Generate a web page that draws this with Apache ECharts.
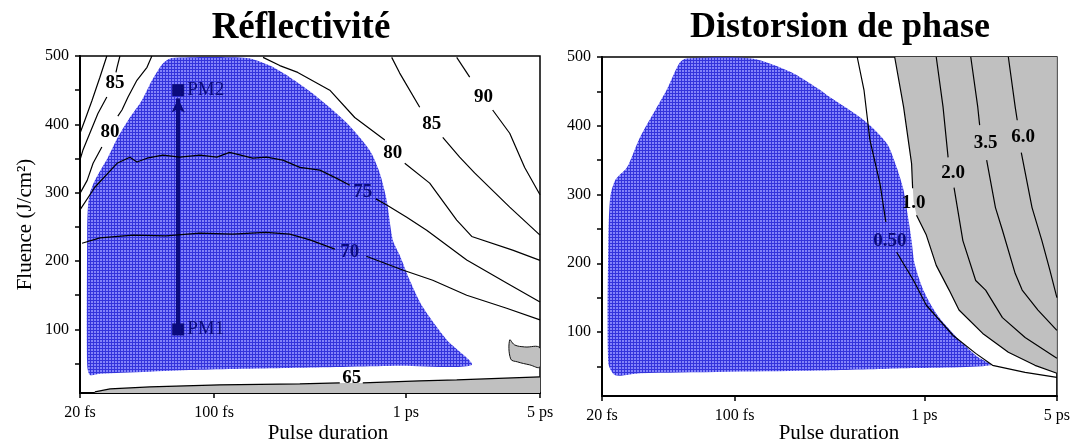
<!DOCTYPE html>
<html><head><meta charset="utf-8">
<script src="https://cdn.jsdelivr.net/npm/echarts@6/dist/echarts.min.js"></script>
<style>html,body{margin:0;padding:0;background:#fff}#c{width:1073px;height:443px}</style>
</head><body><div id="c"></div>
<script>
// ---------- DATA (x: pulse duration in fs, y: fluence in J/cm²) ----------
const yTicks = [50,100,150,200,250,300,350,400,450,500];
const yLabels = [100,200,300,400,500];

// Left panel: Réflectivité
const blueLeft = [[22.5,33.5],[21.8,48],[21.8,245],[22,279],[22.5,299],[23.9,318],[28,352],[31.5,381],[36.4,410],[42,435],[47.4,464],[54.1,489],[60.3,497],[148,497],[195,486],[248,469],[327,445],[492,402],[647,362],[730,329],[794,289],[854,231],[928,209],[1047,172],[1222,133],[1630,85],[2203,48],[928,47],[280,44],[84,41],[25.4,35]];
const c90L  = [[27.6,500],[25.4,469],[23.1,435],[21.2,406],[20,387]];
const c85La = [[32.3,500],[31.2,483.5],[30.8,476]];
const c85Lb = [[27.6,440],[24.8,416],[22.5,387],[20.7,362],[20,348]];
const c80La = [[47.4,500],[44.7,483.5],[39.6,464.5],[35.6,440],[33.1,421],[31.5,412]];
const c80Lb = [[26,367],[23.4,343],[21.8,318],[20,299]];
const c80Ra = [[180,498],[220,486],[273,476],[401,450],[541,410],[776,377]];
const c80Rb = [[986,343],[1330,314],[1840,260],[2203,236],[3600,216],[5000,201]];
const c85Ra = [[843,498],[928,475],[1180,425]];
const c85Rb = [[1556,381],[1906,352],[2280,329],[3476,279],[5000,238]];
const c90Ra = [[1840,498],[2150,469]];
const c90Rb = [[2832,421],[3476,387],[4160,337],[5000,297]];
const c75a = [[20,275],[23.9,308],[31.2,343],[36.4,352],[39.6,345],[44.7,350.5],[54.1,355],[66.3,352],[84.3,355],[103.4,352],[120.5,359],[159,350.5],[188,352],[228,347.6],[280,337],[356,333],[436,321],[510,311]];
const c75b = [[697,291],[794,282],[1010,264],[1283,245],[2075,201.5],[3350,168],[5000,140]];
const c70a = [[20.5,226],[25.4,234],[37.8,238],[56.1,237],[84.3,241],[125,239.5],[186,242],[248,239.5],[316,231],[426,217.5]];
const c70b = [[622,207],[962,187],[1380,172],[2075,150],[3350,131],[5000,114]];
const c65a = [[23.9,8.6],[28.7,13],[46.3,16],[107,19],[280,20.4],[452,21.8]];
const c65b = [[596,21.8],[1180,24.8],[1840,26.2],[5000,30.6]];
const blob = [[3476,84.6],[3688,77.3],[4160,74.4],[5000,72.9],[5000,45.2],[4413,48.2],[3820,52.5],[3516,56.9]];
const labelsLeft = [[30.4,460,'85'],[28.7,388,'80'],[854,358,'80'],[1362,400,'85'],[2541,440,'90'],[596,301,'75'],[510,213,'70'],[522,29,'65']];
const pm = [[65,100,'PM1'],[65,450,'PM2']];
const pmArrow = [[65,100],[65,438]];

// Right panel: Distorsion de phase
const blueRight = [[23.5,37],[21.6,54.5],[21.6,233],[22.1,296],[23.5,321],[27.1,339.5],[31.7,383],[43.8,452],[51.1,491],[55.6,498],[123,498],[199,478],[274,454.5],[320,441],[481,408],[634,374.5],[715,339.5],[778,306],[826,262.5],[857,233],[888,200],[988,161],[1156,127],[1419,98],[1866,66],[2234,51.6],[715,47],[274,44],[31.7,40]];
const c050a = [[443,500],[481,452],[517,379],[584,316],[627,260]];
const c050b = [[715,216],[878,175],[1025,139],[1419,95],[1866,69],[2290,51.6],[3400,41.4],[5000,34]];
const c10a = [[698,500],[778,427],[857,345],[868,309]];
const c10b = [[910,270],[1025,241],[1156,197],[1352,161],[1524,132],[2032,98],[2774,70.5],[3833,51.6],[5000,40]];
const gray10 = [[698,500],[778,427],[857,345],[878,290],[910,270],[1025,241],[1156,197],[1352,161],[1524,132],[2032,98],[2774,70.5],[3833,51.6],[5000,40]];
const c20a = [[1156,500],[1256,427],[1335,354]];
const c20b = [[1435,310],[1597,233],[1866,175],[2105,161],[2582,121],[3400,92],[5000,62]];
const c35a = [[1758,500],[1914,427],[1958,401]];
const c35b = [[2132,350],[2372,281],[2582,248],[3015,185],[3281,161],[3975,132],[5000,102.5]];
const c60a = [[2774,500],[3015,427],[3090,408]];
const c60b = [[3246,361],[3698,281],[4168,233],[4592,190],[5000,150]];
const labelsRight = [[658,233,'0.50'],[878,287,'1.0'],[1419,331,'2.0'],[2105,374.5,'3.5'],[3320,383,'6.0']];

// ---------- STYLE ----------
const SERIF = '"Liberation Serif","Times New Roman",serif';
const NAVY = '#0b0b7d';
const GRAY = '#c0c0c0';
const navyLabels = ['75','70','0.50'];

function makePattern(){
  const c = document.createElement('canvas'); c.width = 3; c.height = 3;
  const g = c.getContext('2d');
  g.fillStyle = '#8484fa'; g.fillRect(0,0,3,3);
  g.fillStyle = '#3434dc'; g.fillRect(0,0,3,1); g.fillRect(0,0,1,3);
  return c;
}
const pattern = {image: makePattern(), repeat: 'repeat'};

function poly(idx, pts, style, smooth){
  return {type:'custom', xAxisIndex:idx, yAxisIndex:idx, silent:true, clip:true,
    data:[pts[0]],
    renderItem:function(params, api){
      return {type:'polygon', shape:{points: pts.map(p=>api.coord(p)), smooth: smooth||0}, style: style};
    }};
}
function contour(idx, pts){
  return {type:'line', xAxisIndex:idx, yAxisIndex:idx, data:pts, symbol:'none', silent:true,
    lineStyle:{color:'#000', width:1.2}, z:5};
}
function area(idx, pts, origin){
  return {type:'line', xAxisIndex:idx, yAxisIndex:idx, data:pts, symbol:'none', silent:true,
    lineStyle:{width:0}, areaStyle:{color:GRAY, opacity:1, origin:origin}, z:1};
}
function labels(idx, arr){
  return {type:'scatter', xAxisIndex:idx, yAxisIndex:idx, symbolSize:0, silent:true, z:10,
    itemStyle:{opacity:1},
    data: arr.map(a=>({value:[a[0],a[1]], name:a[2],
      label:{color: navyLabels.indexOf(a[2])>=0 ? NAVY : '#000'}})),
    label:{show:true, position:'inside', formatter:'{b}', fontFamily:SERIF, fontWeight:'bold', fontSize:19,
      textBorderWidth:0, opacity:1}};
}
function fmtX(v){
  const r = Math.round(v);
  return r < 1000 ? r + ' fs' : (r/1000) + ' ps';
}
function xAxis(idx){
  return {gridIndex:idx, type:'log', logBase:10, min:20, max:5000,
    axisLine:{show:true, lineStyle:{color:'#000', width:2}},
    axisTick:{show:true, inside:false, length:5, lineStyle:{color:'#000', width:1.5}},
    axisLabel:{formatter:fmtX, fontFamily:SERIF, fontSize:16, color:'#000', margin:12, showMinLabel:true, showMaxLabel:true},
    splitLine:{show:false}, minorTick:{show:false}};
}
function yAxis(idx, withName){
  const a = {gridIndex:idx, type:'value', min:7, max:500,
    axisLine:{show:true, lineStyle:{color:'#000', width:2}},
    axisTick:{show:true, inside:false, length:5, customValues:yTicks, lineStyle:{color:'#000', width:1.5}},
    axisLabel:{customValues:yLabels, fontFamily:SERIF, fontSize:16, color:'#000', margin:11},
    splitLine:{show:false}};
  if (withName){
    a.name = 'Fluence (J/cm²)'; a.nameLocation = 'middle'; a.nameGap = 44;
    a.nameTextStyle = {fontFamily:SERIF, fontSize:21, color:'#000'};
  }
  return a;
}

const series = [
  // left
  area(0, c65a.concat(c65b), 'start'),
  poly(0, blob, {fill:GRAY, stroke:'#111', lineWidth:1}, 0.4),
  poly(0, blueLeft, {fill:pattern}, 0.25),
  contour(0,c90L), contour(0,c85La), contour(0,c85Lb), contour(0,c80La), contour(0,c80Lb),
  contour(0,c80Ra), contour(0,c80Rb), contour(0,c85Ra), contour(0,c85Rb), contour(0,c90Ra), contour(0,c90Rb),
  contour(0,c75a), contour(0,c75b), contour(0,c70a), contour(0,c70b), contour(0,c65a), contour(0,c65b),
  labels(0, labelsLeft),
  {type:'scatter', xAxisIndex:0, yAxisIndex:0, silent:true, z:12, symbol:'rect', symbolSize:12,
    itemStyle:{color:NAVY, opacity:1},
    data: pm.map(p=>({value:[p[0],p[1]], name:p[2]})),
    label:{show:true, position:'right', distance:3, formatter:'{b}', fontFamily:SERIF, fontSize:19, color:NAVY},
    markLine:{silent:true, symbol:['none','arrow'], symbolSize:[10,14], animation:false,
      lineStyle:{color:NAVY, width:4, type:'solid', opacity:1}, label:{show:false},
      data:[[{coord:pmArrow[0]},{coord:pmArrow[1]}]]}},
  // right
  area(1, gray10, 'end'),
  poly(1, blueRight, {fill:pattern}, 0.25),
  contour(1,c050a), contour(1,c050b), contour(1,c10a), contour(1,c10b),
  contour(1,c20a), contour(1,c20b), contour(1,c35a), contour(1,c35b), contour(1,c60a), contour(1,c60b),
  labels(1, labelsRight)
];

const chart = echarts.init(document.getElementById('c'), null, {renderer:'canvas'});
chart.setOption({
  animation:false,
  backgroundColor:'#fff',
  grid:[
    {left:80, top:56, width:460, height:337, show:true, borderColor:'#000', borderWidth:1.5, backgroundColor:'transparent'},
    {left:602, top:57, width:462, height:339, show:true, borderColor:'#000', borderWidth:1.5, backgroundColor:'transparent'}
  ],
  xAxis:[xAxis(0), xAxis(1)],
  yAxis:[yAxis(0,true), yAxis(1,false)],
  graphic:[
    {type:'text', x:301, y:28, style:{text:'Réflectivité', font:'bold 37px '+SERIF, fill:'#000', align:'center', verticalAlign:'middle', textAlign:'center', textVerticalAlign:'middle'}},
    {type:'text', x:840, y:28, style:{text:'Distorsion de phase', font:'bold 36px '+SERIF, fill:'#000', align:'center', verticalAlign:'middle', textAlign:'center', textVerticalAlign:'middle'}},
    {type:'text', x:328, y:433, style:{text:'Pulse duration', font:'21px '+SERIF, fill:'#000', align:'center', verticalAlign:'middle', textAlign:'center', textVerticalAlign:'middle'}},
    {type:'text', x:839, y:433, style:{text:'Pulse duration', font:'21px '+SERIF, fill:'#000', align:'center', verticalAlign:'middle', textAlign:'center', textVerticalAlign:'middle'}}
  ],
  series: series
});
</script></body></html>
